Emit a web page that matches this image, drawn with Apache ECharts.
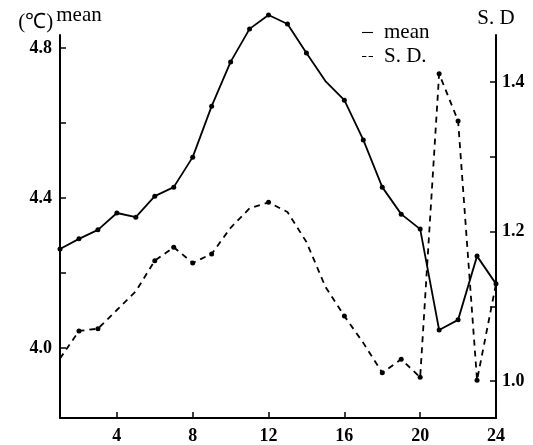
<!DOCTYPE html>
<html>
<head>
<meta charset="utf-8">
<script src="https://cdn.jsdelivr.net/npm/echarts@6/dist/echarts.min.js"></script>
<style>
  html, body { margin: 0; padding: 0; background: #fff; }
  #main { width: 533px; height: 445px; }
</style>
</head>
<body>
<div id="main"></div>
<script>
// hour of day
const hours = [1, 2, 3, 4, 5, 6, 7, 8, 9, 10, 11, 12, 13, 14, 15, 16, 17, 18, 19, 20, 21, 22, 23, 24];
// mean temperature (left axis, deg C)
const meanValues = [4.264, 4.291, 4.315, 4.36, 4.349, 4.405, 4.429, 4.509, 4.645, 4.763, 4.851, 4.888,
  4.864, 4.787, 4.712, 4.661, 4.555, 4.429, 4.357, 4.317, 4.048, 4.075, 4.245, 4.171];
// standard deviation (right axis)
const sdValues = [1.03, 1.067, 1.07, 1.095, 1.12, 1.161, 1.179, 1.158, 1.17, 1.205, 1.231, 1.239,
  1.226, 1.186, 1.126, 1.087, 1.051, 1.011, 1.029, 1.005, 1.411, 1.348, 1.001, 1.13];
// which points carry a dot
const meanDots = [1, 1, 1, 1, 1, 1, 1, 1, 1, 1, 1, 1, 1, 1, 0, 1, 1, 1, 1, 1, 1, 1, 1, 1];
const sdDots = [0, 1, 1, 0, 0, 1, 1, 1, 1, 0, 0, 1, 0, 0, 0, 1, 0, 1, 1, 1, 1, 1, 1, 0];

const xTicks = [4, 8, 12, 16, 20, 24];
const meanTicks = [4.0, 4.2, 4.4, 4.6, 4.8];
const meanLabels = [4.0, 4.4, 4.8];
const sdTicks = [1.0, 1.1, 1.2, 1.3, 1.4];
const sdLabels = [1.0, 1.2, 1.4];

const FONT = "Liberation Serif";

const chart = echarts.init(document.getElementById("main"));

const toPoints = (vals, dots) =>
  hours.map((h, i) => ({ value: [h, vals[i]], symbol: dots[i] ? "circle" : "none" }));

const axisCommon = {
  axisLine: { show: true, lineStyle: { color: "#000", width: 2 } },
  axisTick: { show: true, inside: true, length: 6, lineStyle: { color: "#000", width: 1.5 } },
  splitLine: { show: false },
};

const tickFont = { fontFamily: FONT, fontSize: 18, fontWeight: "bold", color: "#000" };

const option = {
  animation: false,
  backgroundColor: "#fff",
  grid: { left: 60, right: 37, top: 35, bottom: 27 },
  legend: {
    orient: "vertical",
    left: 357,
    top: 17,
    itemWidth: 11,
    itemHeight: 2,
    itemGap: 3,
    textStyle: { fontFamily: FONT, fontSize: 21, color: "#000", padding: [0, 0, 0, 6] },
    data: [
      { name: "mean", icon: "path://M0 0H10V1H0Z" },
      { name: "S. D.", icon: "path://M0 0H4V1H0Z M6 0H10V1H6Z" },
    ],
  },
  xAxis: {
    type: "value",
    min: 1,
    max: 24,
    ...axisCommon,
    axisTick: { ...axisCommon.axisTick, customValues: xTicks },
    axisLabel: { customValues: xTicks, margin: 9, ...tickFont },
  },
  yAxis: [
    {
      type: "value",
      min: 3.8133,
      max: 4.8347,
      ...axisCommon,
      axisTick: { ...axisCommon.axisTick, customValues: meanTicks },
      axisLabel: {
        customValues: meanLabels,
        margin: 8,
        ...tickFont,
        formatter: (v) => v.toFixed(1),
      },
      name: "{u|(℃)}{m|mean}",
      nameGap: 2,
      nameTextStyle: {
        rich: {
          u: { fontFamily: FONT, fontSize: 21, color: "#000", verticalAlign: "bottom", lineHeight: 28 },
          m: { fontFamily: FONT, fontSize: 21, color: "#000", verticalAlign: "top", lineHeight: 28, padding: [0, 0, 0, 3] },
        },
      },
    },
    {
      type: "value",
      position: "right",
      min: 0.9505,
      max: 1.4629,
      ...axisCommon,
      axisTick: { ...axisCommon.axisTick, customValues: sdTicks },
      axisLabel: {
        customValues: sdLabels,
        margin: 6,
        ...tickFont,
        formatter: (v) => v.toFixed(1),
      },
      name: "S. D",
      nameGap: 6,
      nameTextStyle: { fontFamily: FONT, fontSize: 21, color: "#000" },
    },
  ],
  series: [
    {
      name: "mean",
      type: "line",
      yAxisIndex: 0,
      clip: false,
      data: toPoints(meanValues, meanDots),
      symbolSize: 5,
      color: "#000",
      lineStyle: { color: "#000", width: 1.8 },
      itemStyle: { color: "#000" },
    },
    {
      name: "S. D.",
      type: "line",
      yAxisIndex: 1,
      clip: false,
      data: toPoints(sdValues, sdDots),
      symbolSize: 5,
      color: "#000",
      lineStyle: { color: "#000", width: 1.8, type: [6, 5] },
      itemStyle: { color: "#000" },
    },
  ],
};

chart.setOption(option);
</script>
</body>
</html>
